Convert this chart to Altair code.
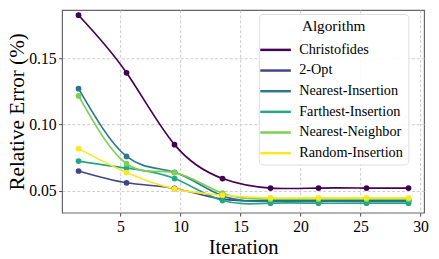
import altair as alt
import pandas as pd

iterations = [1.5, 5.5, 9.5, 13.5, 17.5, 21.5, 25.5, 29]
algorithms = ["Christofides", "2-Opt", "Nearest-Insertion", "Farthest-Insertion",
              "Nearest-Neighbor", "Random-Insertion"]
christofides = [0.1825, 0.139, 0.0847, 0.0591, 0.0519, 0.0519, 0.0519, 0.0519]
two_opt = [0.0648, 0.0559, 0.0516, 0.0435, 0.0423, 0.0423, 0.0423, 0.0423]
nearest_insertion = [0.127, 0.0758, 0.0638, 0.046, 0.042, 0.042, 0.042, 0.042]
farthest_insertion = [0.0723, 0.0670, 0.0591, 0.0425, 0.0405, 0.0405, 0.0405, 0.0405]
nearest_neighbor = [0.1215, 0.0703, 0.0636, 0.048, 0.0435, 0.0435, 0.0435, 0.0435]
random_insertion = [0.0817, 0.0636, 0.0513, 0.0465, 0.0445, 0.0445, 0.0445, 0.0445]
colors = ["#440154", "#414487", "#2a788e", "#22a884", "#7ad151", "#fde725"]

series = [christofides, two_opt, nearest_insertion, farthest_insertion,
          nearest_neighbor, random_insertion]
rows = []
for i, (name, vals) in enumerate(zip(algorithms, series)):
    for x, y in zip(iterations, vals):
        rows.append({"Iteration": x, "Error": y, "Algorithm": name, "ord": i})
df = pd.DataFrame(rows)

FONT = "Liberation Serif, Times New Roman, serif"
xs = alt.Scale(domain=[0.13, 30.3], nice=False, zero=False)
ys = alt.Scale(domain=[0.0333, 0.1864], nice=False, zero=False)
cs = alt.Scale(domain=algorithms, range=colors)

lines = alt.Chart(df).mark_line(interpolate="natural", strokeWidth=1.7).encode(
    x=alt.X("Iteration:Q", scale=xs,
            axis=alt.Axis(values=[5, 10, 15, 20, 25, 30], title="Iteration",
                          labelFont=FONT, labelFontWeight="normal")),
    y=alt.Y("Error:Q", scale=ys,
            axis=alt.Axis(values=[0.05, 0.10, 0.15], format=".2f",
                          title="Relative Error (%)", titleFontSize=21.5,
                          titleX=-34,
                          labelFont=FONT, labelFontWeight="normal")),
    color=alt.Color("Algorithm:N", scale=cs,
                    legend=alt.Legend(title="Algorithm", orient="none",
                                      legendX=200, legendY=4,
                                      labelFont=FONT, labelFontWeight="normal")),
    order=alt.Order("ord:Q"),
    detail="ord:Q",
)
points = alt.Chart(df).mark_circle(size=34, opacity=1).encode(
    x=alt.X("Iteration:Q", scale=xs),
    y=alt.Y("Error:Q", scale=ys),
    color=alt.Color("Algorithm:N", scale=cs),
    order=alt.Order("ord:Q"),
)

chart = alt.layer(lines, points).properties(
    width=368, height=206,
    autosize=alt.AutoSizeParams(type="none"),
    padding={"left": 55, "top": 0, "right": 7, "bottom": 45},
    background="white",
).configure(font=FONT).configure_view(
    stroke="#666666", strokeWidth=1.2
).configure_axis(
    titleFont=FONT, titleFontSize=21, titleFontWeight="normal", titleColor="#000",
    labelFont=FONT, labelFontSize=16, labelColor="#000",
    tickSize=3.5, tickColor="#444", domain=False,
    gridDash=[3, 2], gridColor="#cccccc", labelPadding=2.5,
).configure_axisX(titlePadding=2.5).configure_axisY(titlePadding=0).configure_legend(
    symbolType="M-1.48,0H1.48", symbolSize=441, symbolStrokeWidth=2.5,
    titleFont=FONT, titleFontSize=15.5, titleFontWeight="normal", titleColor="#000",
    labelFont=FONT, labelFontSize=14.5, labelColor="#000", rowPadding=2,
    fillColor="rgba(255,255,255,0.85)", strokeColor="#dddddd", cornerRadius=4,
    padding=5, titlePadding=4, labelOffset=12, titleAnchor="middle",
)

chart.save("out.html", embed_options={"renderer": "svg", "actions": False})
